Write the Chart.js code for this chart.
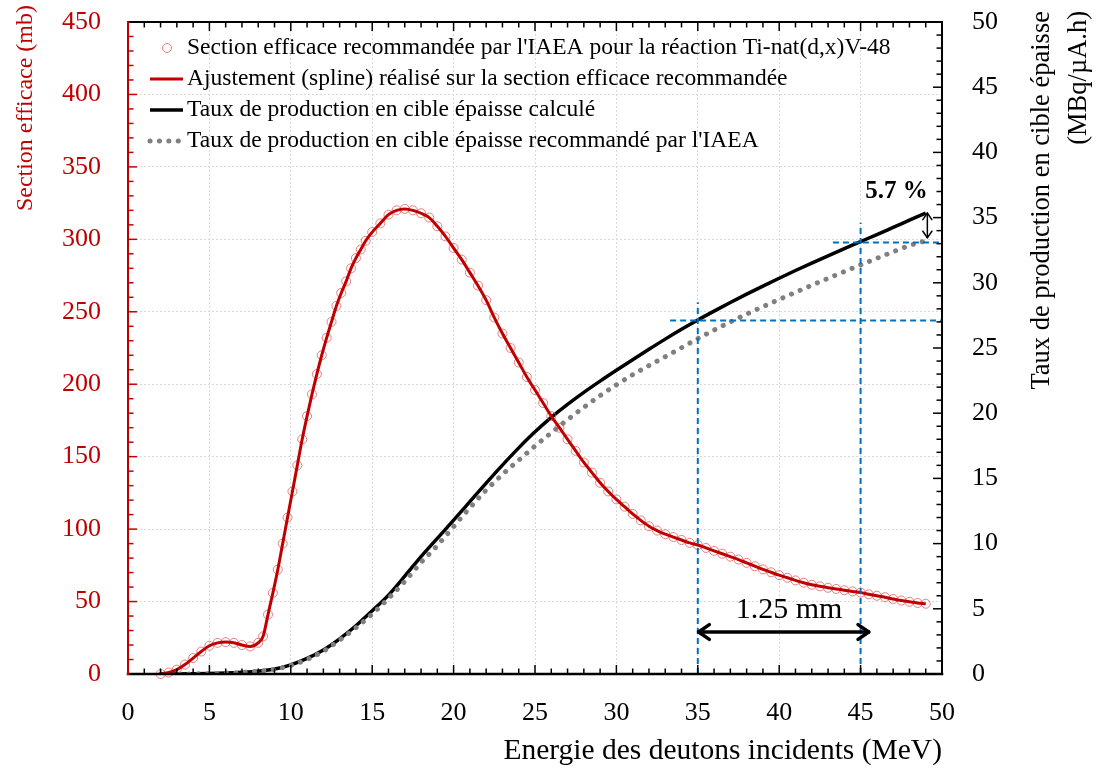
<!DOCTYPE html>
<html>
<head>
<meta charset="utf-8">
<script src="https://cdn.jsdelivr.net/npm/chart.js@4.4.1/dist/chart.umd.min.js"></script>
<style>
  html, body { margin: 0; padding: 0; background: #fff; }
  canvas { display: block; }
</style>
</head>
<body>
<canvas id="chart" width="1102" height="771"></canvas>
<script>
// section efficace IAEA (mb) vs energie (MeV)
const eXS = [2.0, 2.5, 3.0, 3.5, 4.0, 4.5, 5.0, 5.5, 6.0, 6.5, 7.0, 7.5, 8.0,
  8.3, 8.6, 8.9, 9.2, 9.5, 9.8, 10.1, 10.4, 10.7, 11.0, 11.3, 11.6, 11.9, 12.2, 12.5, 12.8, 13.1, 13.4, 13.7, 14.0, 14.3, 14.6,
  15.0, 15.5, 16.0, 16.5, 17.0, 17.5, 18.0, 18.5, 19.0, 19.5, 20.0, 20.5, 21.0, 21.5, 22.0, 22.5, 23.0, 23.5, 24.0, 24.5,
  25.0, 25.5, 26.0, 26.5, 27.0, 27.5, 28.0, 28.5, 29.0, 29.5, 30.0, 30.5, 31.0, 31.5, 32.0, 32.5, 33.0, 33.5, 34.0, 34.5,
  35.0, 35.5, 36.0, 36.5, 37.0, 37.5, 38.0, 38.5, 39.0, 39.5, 40.0, 40.5, 41.0, 41.5, 42.0, 42.5, 43.0, 43.5, 44.0, 44.5,
  45.0, 45.5, 46.0, 46.5, 47.0, 47.5, 48.0, 48.5, 49.0];
const sXS = [0, 1, 3, 6.5, 11, 15.5, 19.5, 21.5, 22, 21.5, 20, 19, 21.5,
  26, 41, 56, 72, 90, 108, 126, 144, 162, 178, 193, 207, 220, 232, 243, 254, 263, 271, 280, 287, 293, 299,
  305, 311, 317, 320, 321, 320, 318, 315, 309, 302, 294, 286, 277, 268, 258, 246, 235, 225, 215, 205,
  196, 187, 178, 170, 162, 154, 146, 139, 132, 126, 120.5, 115.5, 110.5, 106, 102, 99, 96.5, 94.5, 92.5, 90.5,
  89, 87, 85, 83, 81, 79, 76.7, 74.4, 72.2, 70.2, 68.2, 66.4, 64.6, 63, 61.6, 60.5, 59.5, 58.7, 57.8, 57,
  56.2, 55, 54, 53, 51.8, 50.7, 49.8, 49, 48.5];

// taux de production en cible epaisse (MBq/uA.h)
const eCalc = [2, 3, 4, 5, 6, 7, 8, 9, 10, 11, 12, 13, 14, 15, 16, 17, 18, 19, 20, 21, 22, 23, 24, 25,
  26, 27, 28, 29, 30, 31, 32, 33, 34, 35, 36, 37, 38, 39, 40, 41, 42, 43, 44, 45, 46, 47, 48, 49];
const yCalc = [0, 0, 0.01, 0.03, 0.07, 0.13, 0.22, 0.38, 0.7, 1.2, 1.85, 2.7, 3.7, 4.85, 6.05, 7.5, 9.0, 10.4, 11.8, 13.22, 14.64, 16.02, 17.34, 18.57,
  19.68, 20.68, 21.6, 22.46, 23.29, 24.1, 24.9, 25.68, 26.43, 27.15, 27.83, 28.49, 29.13, 29.75, 30.35, 30.94, 31.51, 32.07, 32.62, 33.16, 33.7, 34.25, 34.8, 35.35];
const eIaea = [2, 3, 4, 5, 6, 7, 8, 9, 10, 11, 12, 13, 14, 15, 16, 17, 18, 19, 20, 21, 22, 23, 24, 25,
  26, 27, 28, 29, 30, 31, 32, 33, 34, 35, 36, 37, 38, 39, 40, 41, 42, 43, 44, 45, 46, 47, 48, 48.8];
const yIaea = [0, 0, 0.01, 0.03, 0.07, 0.13, 0.21, 0.36, 0.66, 1.12, 1.75, 2.6, 3.55, 4.6, 5.8, 7.1, 8.55, 9.85, 11.3, 12.75, 14.1, 15.3, 16.4, 17.48,
  18.5, 19.5, 20.45, 21.35, 22.18, 22.95, 23.65, 24.33, 25.02, 25.72, 26.37, 27.0, 27.6, 28.17, 28.72, 29.27, 29.81, 30.34, 30.86, 31.37, 31.88, 32.38, 32.86, 33.15];

// repères en tirets bleus (axe de droite)
const guideVertE = [35, 45];
const guideVertTop = [28.5, 34.6];
const guideHorY = [27.1, 33.1];
const guideHorStart = [33.3, 43.3];

// flèches et annotations
const thickArrowE = [35.05, 45.5];
const thickArrowCs = 29;
const thickLabel = '1.25 mm';
const thickLabelPos = [40.6, 44];
const gapArrowE = 49.1;
const gapArrowY = [35.35, 33.45];
const gapLabel = '5.7 %';
const gapLabelPos = [47.2, 37.0];

// graduations
const xTickValues = [0, 5, 10, 15, 20, 25, 30, 35, 40, 45, 50];
const csTickValues = [0, 50, 100, 150, 200, 250, 300, 350, 400, 450];
const yieldTickValues = [0, 5, 10, 15, 20, 25, 30, 35, 40, 45, 50];

const labels = [
  "Section efficace recommandée par l'IAEA pour la réaction Ti-nat(d,x)V-48",
  'Ajustement (spline) réalisé sur la section efficace recommandée',
  'Taux de production en cible épaisse calculé',
  "Taux de production en cible épaisse recommandé par l'IAEA"
];

const RED = '#C00000';
const BLUE = '#0070C0';
const GRAY = '#808080';
const FONT = "'Liberation Serif', 'Times New Roman', serif";

const pts = (xs, ys) => xs.map((v, i) => ({ x: v, y: ys[i] }));

const guideSets = [];
guideVertE.forEach((e, i) => {
  guideSets.push({ data: [{ x: e, y: 0 }, { x: e, y: guideVertTop[i] }] });
});
guideHorY.forEach((y, i) => {
  guideSets.push({ data: [{ x: guideHorStart[i], y: y }, { x: 50, y: y }] });
});

const datasets = [
  {
    label: labels[1], data: pts(eXS, sXS), yAxisID: 'y', order: 1,
    borderColor: RED, borderWidth: 3, pointRadius: 0, cubicInterpolationMode: 'monotone', fill: false
  },
  {
    label: labels[0], data: pts(eXS, sXS), yAxisID: 'y', order: 2, showLine: false, clip: false,
    pointStyle: 'circle', pointRadius: 4.5, pointBorderWidth: 1,
    pointBorderColor: 'rgba(225,85,85,0.75)', pointBackgroundColor: 'rgba(0,0,0,0)'
  },
  {
    label: labels[3], data: pts(eIaea, yIaea), yAxisID: 'y2', order: 3,
    borderColor: GRAY, borderWidth: 5, borderDash: [0.1, 9.3], borderCapStyle: 'round',
    pointRadius: 0, cubicInterpolationMode: 'monotone', fill: false
  },
  {
    label: labels[2], data: pts(eCalc, yCalc), yAxisID: 'y2', order: 4,
    borderColor: '#000', borderWidth: 3.5, pointRadius: 0, cubicInterpolationMode: 'monotone', fill: false
  }
].concat(guideSets.map(g => ({
  label: '', data: g.data, yAxisID: 'y2', order: 0,
  borderColor: BLUE, borderWidth: 2, borderDash: [6, 4], pointRadius: 0, fill: false
})));

function arrow(ctx, x1, y1, x2, y2, head, width) {
  const ang = Math.atan2(y2 - y1, x2 - x1);
  ctx.lineWidth = width;
  ctx.lineCap = 'round';
  ctx.lineJoin = 'round';
  ctx.beginPath();
  ctx.moveTo(x1, y1);
  ctx.lineTo(x2, y2);
  ctx.stroke();
  [[x1, y1, ang + Math.PI], [x2, y2, ang]].forEach(([x, y, a]) => {
    ctx.beginPath();
    ctx.moveTo(x - head * Math.cos(a - 0.6), y - head * Math.sin(a - 0.6));
    ctx.lineTo(x, y);
    ctx.lineTo(x - head * Math.cos(a + 0.6), y - head * Math.sin(a + 0.6));
    ctx.stroke();
  });
}

const frame = {
  id: 'frame',
  afterDatasetsDraw(chart) {
    const { ctx, chartArea: a, scales } = chart;
    const sx = scales.x, sc = scales.y, sy = scales.y2;
    const seg = (x1, y1, x2, y2) => { ctx.beginPath(); ctx.moveTo(x1, y1); ctx.lineTo(x2, y2); ctx.stroke(); };
    ctx.save();

    // graduations vers l'interieur
    ctx.lineWidth = 1.5;
    ctx.strokeStyle = '#000';
    for (let e = 1; e < 50; e++) {
      const p = sx.getPixelForValue(e);
      const len = e % 5 === 0 ? 9 : 5.5;
      seg(p, a.bottom, p, a.bottom - len);
      seg(p, a.top, p, a.top + len);
    }
    for (let v = 1; v < 50; v++) {
      const p = sy.getPixelForValue(v);
      seg(a.right, p, a.right - (v % 5 === 0 ? 9 : 5.5), p);
    }
    ctx.strokeStyle = RED;
    for (let v = 10; v < 450; v += 10) {
      const p = sc.getPixelForValue(v);
      seg(a.left, p, a.left + (v % 50 === 0 ? 9 : 5.5), p);
    }

    // cadre
    ctx.lineCap = 'square';
    ctx.strokeStyle = '#000';
    ctx.lineWidth = 2.5;
    seg(a.left, a.bottom, a.right, a.bottom);
    ctx.lineWidth = 2;
    seg(a.left, a.top, a.right, a.top);
    seg(a.right, a.top, a.right, a.bottom);
    ctx.strokeStyle = RED;
    seg(a.left, a.top, a.left, a.bottom);

    // fleches
    ctx.strokeStyle = '#000';
    const ay = sc.getPixelForValue(thickArrowCs);
    arrow(ctx, sx.getPixelForValue(thickArrowE[0]), ay, sx.getPixelForValue(thickArrowE[1]), ay, 13, 3.5);
    const gx = sx.getPixelForValue(gapArrowE);
    arrow(ctx, gx, sy.getPixelForValue(gapArrowY[0]), gx, sy.getPixelForValue(gapArrowY[1]), 8, 1.5);

    ctx.fillStyle = '#000';
    ctx.textAlign = 'center';
    ctx.textBaseline = 'middle';
    ctx.font = '30px ' + FONT;
    ctx.fillText(thickLabel, sx.getPixelForValue(thickLabelPos[0]), sc.getPixelForValue(thickLabelPos[1]));
    ctx.font = 'bold 25px ' + FONT;
    ctx.fillText(gapLabel, sx.getPixelForValue(gapLabelPos[0]), sy.getPixelForValue(gapLabelPos[1]));

    // titres des axes verticaux
    ctx.textAlign = 'right';
    ctx.save();
    ctx.translate(26, 5);
    ctx.rotate(-Math.PI / 2);
    ctx.fillStyle = RED;
    ctx.font = '24px ' + FONT;
    ctx.fillText('Section efficace (mb)', 0, 0);
    ctx.restore();
    ctx.font = '26.5px ' + FONT;
    [['Taux de production en cible épaisse', 1042], ['(MBq/µA.h)', 1079]].forEach(([t, x]) => {
      ctx.save();
      ctx.translate(x, 11);
      ctx.rotate(-Math.PI / 2);
      ctx.fillText(t, 0, 0);
      ctx.restore();
    });

    // legende
    const ds = chart.data.datasets;
    const rows = [[1, 48], [0, 79], [3, 110], [2, 141]];
    ctx.textAlign = 'left';
    ctx.font = '23.5px ' + FONT;
    rows.forEach(([di, y], k) => {
      const d = ds[di];
      if (k === 0) {
        ctx.lineWidth = 1;
        ctx.strokeStyle = d.pointBorderColor;
        ctx.beginPath();
        ctx.arc(167, y, 4.5, 0, Math.PI * 2);
        ctx.stroke();
      } else {
        ctx.strokeStyle = d.borderColor;
        ctx.lineWidth = d.borderWidth;
        ctx.lineCap = d.borderCapStyle || 'butt';
        ctx.setLineDash(d.borderDash || []);
        seg(150, y, 183, y);
        ctx.setLineDash([]);
      }
      ctx.fillStyle = '#000';
      ctx.fillText(d.label, 187, y);
    });
    ctx.restore();
  }
};

const setTicks = values => scale => { scale.ticks = values.map(v => ({ value: v })); };
const noPadY = w => s => { s.width = w; s.paddingTop = 0; s.paddingBottom = 0; };

new Chart(document.getElementById('chart'), {
  type: 'line',
  data: { datasets },
  options: {
    responsive: false,
    animation: false,
    devicePixelRatio: 1,
    layout: { padding: { top: 22, left: 0, right: 0, bottom: 0 } },
    plugins: { legend: { display: false }, tooltip: { enabled: false } },
    scales: {
      x: {
        type: 'linear', min: 0, max: 50,
        afterBuildTicks: setTicks(xTickValues),
        afterFit: s => { s.height = 97; s.paddingLeft = 0; s.paddingRight = 0; },
        grid: { color: '#d9d9d9', lineWidth: 1, drawTicks: false },
        border: { display: false, dash: [2, 2] },
        ticks: { color: '#000', font: { size: 26, family: FONT }, padding: 24, maxRotation: 0, autoSkip: false },
        title: {
          display: true, text: 'Energie des deutons incidents (MeV)', align: 'end', color: '#000',
          font: { size: 29.5, family: FONT }, padding: { top: 0, bottom: 2 }
        }
      },
      y: {
        type: 'linear', position: 'left', min: 0, max: 450,
        afterBuildTicks: setTicks(csTickValues),
        afterFit: noPadY(128),
        grid: { color: '#d9d9d9', lineWidth: 1, drawTicks: false },
        border: { display: false, dash: [2, 2] },
        ticks: { color: RED, font: { size: 26, family: FONT }, padding: 27 }
      },
      y2: {
        type: 'linear', position: 'right', min: 0, max: 50,
        afterBuildTicks: setTicks(yieldTickValues),
        afterFit: noPadY(160),
        grid: { display: false, drawTicks: false },
        border: { display: false },
        ticks: { color: '#000', font: { size: 26, family: FONT }, padding: 30 }
      }
    }
  },
  plugins: [frame]
});
</script>
</body>
</html>
